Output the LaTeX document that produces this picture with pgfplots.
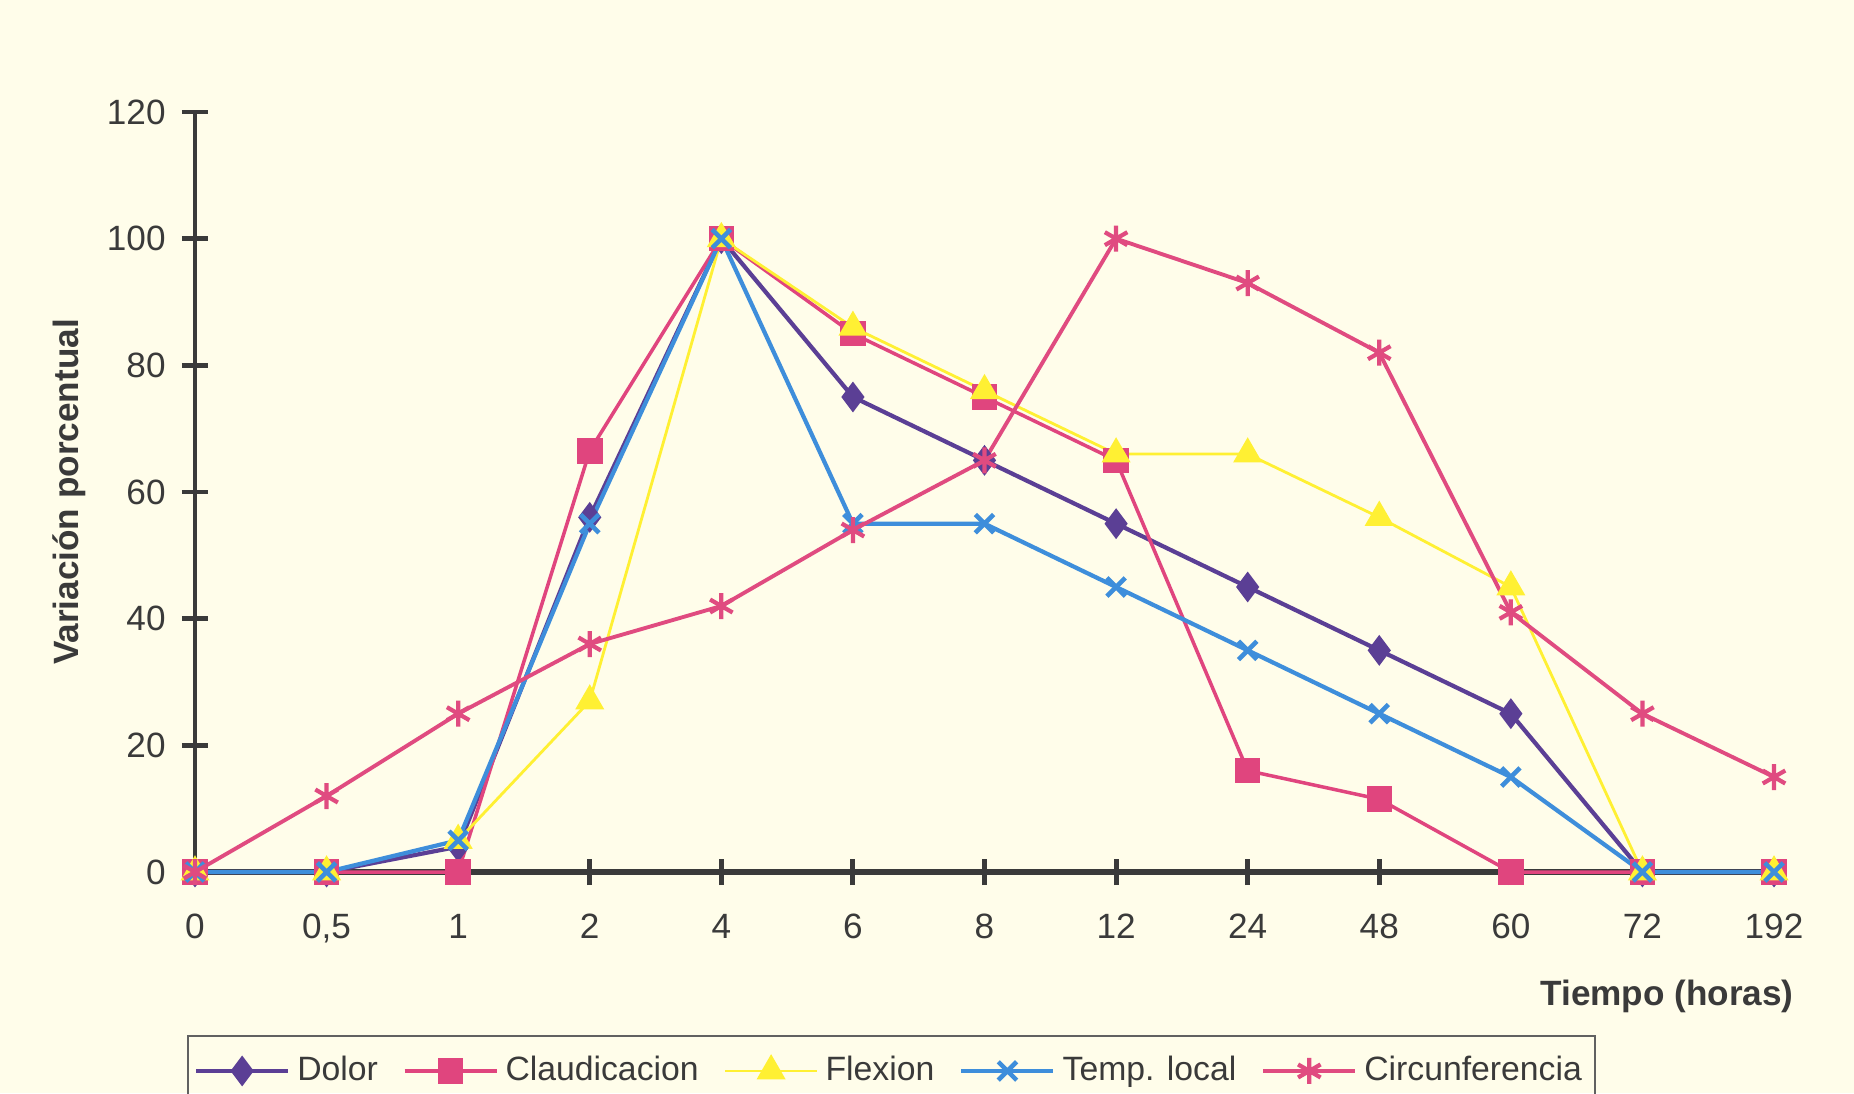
\documentclass[border=0pt]{standalone}
\usepackage{pgfplots}
\pgfplotsset{compat=1.18}
\usepackage{fontspec}
\setmainfont{Liberation Sans}
\definecolor{bg}{HTML}{FFFDEA}
\definecolor{axisc}{HTML}{3A3A3A}
\definecolor{labc}{HTML}{3A3A3A}
\definecolor{dolor}{HTML}{5B3F95}
\definecolor{claud}{HTML}{E0457E}
\definecolor{flex}{HTML}{FFF033}
\definecolor{temp}{HTML}{3E8EDB}
\definecolor{circ}{HTML}{E04B80}
\begin{document}
\begin{tikzpicture}
\useasboundingbox (0,0) rectangle (185.4mm,109.3mm);
\fill[bg] (0,0) rectangle (185.4mm,109.3mm);
\clip (0,0) rectangle (185.4mm,109.3mm);
\begin{axis}[
  at={(19.5mm,22.1mm)}, anchor=south west,
  scale only axis, width=157.9mm, height=76mm,
  xmin=0, xmax=12, ymin=0, ymax=120,
  clip=false,
  axis x line=bottom, axis y line=left,
  axis line style={-},
  x axis line style={line width=1.9pt, color=axisc},
  y axis line style={line width=1.4pt, color=axisc},
  xtick={0,...,12},
  xticklabels={0,{0,5},1,2,4,6,8,12,24,48,60,72,192},
  ytick={0,20,...,120},
  major tick length=2.6mm,
  xtick align=center, ytick align=outside,
  tick style={color=axisc, line width=1.4pt},
  ytick style={xshift=1.3mm},
  /pgf/number format/assume math mode=true,
  ticklabel style={font=\fontsize{10}{12}\selectfont, text=labc},
  xticklabel style={yshift=-1.7mm},
  yticklabel style={xshift=0.9mm},
  xlabel={\textbf{Tiempo (horas)}},
  ylabel={\textbf{Variación porcentual}},
  every axis x label/.style={at={(axis description cs:1,0)}, anchor=east, xshift=3.2mm, yshift=-12.4mm, font=\fontsize{10}{12}\selectfont, text=labc},
  every axis y label/.style={at={(axis description cs:-0.0798,0.5)}, anchor=center, rotate=90, font=\fontsize{10}{12}\selectfont, text=labc},
  legend columns=5,
  legend cell align=left,
  legend style={at={(axis description cs:0,0)}, anchor=north west, xshift=-0.8mm, yshift=-16.3mm,
    draw=axisc!80, line width=0.6pt, fill=none, text=labc,
    font=\fontsize{9.6}{12}\selectfont, inner xsep=0.6mm, inner ysep=1.3mm,
    /tikz/every even column/.append style={column sep=1.8mm}},
  legend image code/.code={\draw[mark repeat=2,mark phase=2] plot coordinates {(0cm,0cm) (0.46cm,0cm) (0.92cm,0cm)};},
]
\addplot[color=dolor, line width=1.2pt, mark=diamond*, mark size=1.4mm, mark options={fill=dolor, line width=0.5pt}]
  coordinates {(0,0) (1,0) (2,4) (3,56) (4,100) (5,75) (6,65) (7,55) (8,45) (9,35) (10,25) (11,0) (12,0)};
\addlegendentry{Dolor}
\addplot[color=claud, line width=1.0pt, mark=square*, mark size=1.1mm, mark options={fill=claud}]
  coordinates {(0,0) (1,0) (2,0) (3,66.5) (4,100) (5,85) (6,75) (7,65) (8,16) (9,11.5) (10,0) (11,0) (12,0)};
\addlegendentry{Claudicacion}
\addplot[color=flex, line width=0.8pt, mark=triangle*, mark size=1.4mm, mark options={fill=flex}]
  coordinates {(0,0) (1,0) (2,5) (3,27) (4,100) (5,86) (6,76) (7,66) (8,66) (9,56) (10,45) (11,0) (12,0)};
\addlegendentry{Flexion}
\addplot[color=temp, line width=1.2pt, mark=x, mark size=1.3mm, mark options={line width=1.3pt}]
  coordinates {(0,0) (1,0) (2,5) (3,55) (4,100) (5,55) (6,55) (7,45) (8,35) (9,25) (10,15) (11,0) (12,0)};
\addlegendentry{Temp. local}
\addplot[color=circ, line width=1.1pt, mark=asterisk, mark size=1.3mm, mark options={line width=1.2pt}]
  coordinates {(0,0) (1,12) (2,25) (3,36) (4,42) (5,54) (6,65) (7,100) (8,93) (9,82) (10,41) (11,25) (12,15)};
\addlegendentry{Circunferencia}
\end{axis}
\end{tikzpicture}
\end{document}
